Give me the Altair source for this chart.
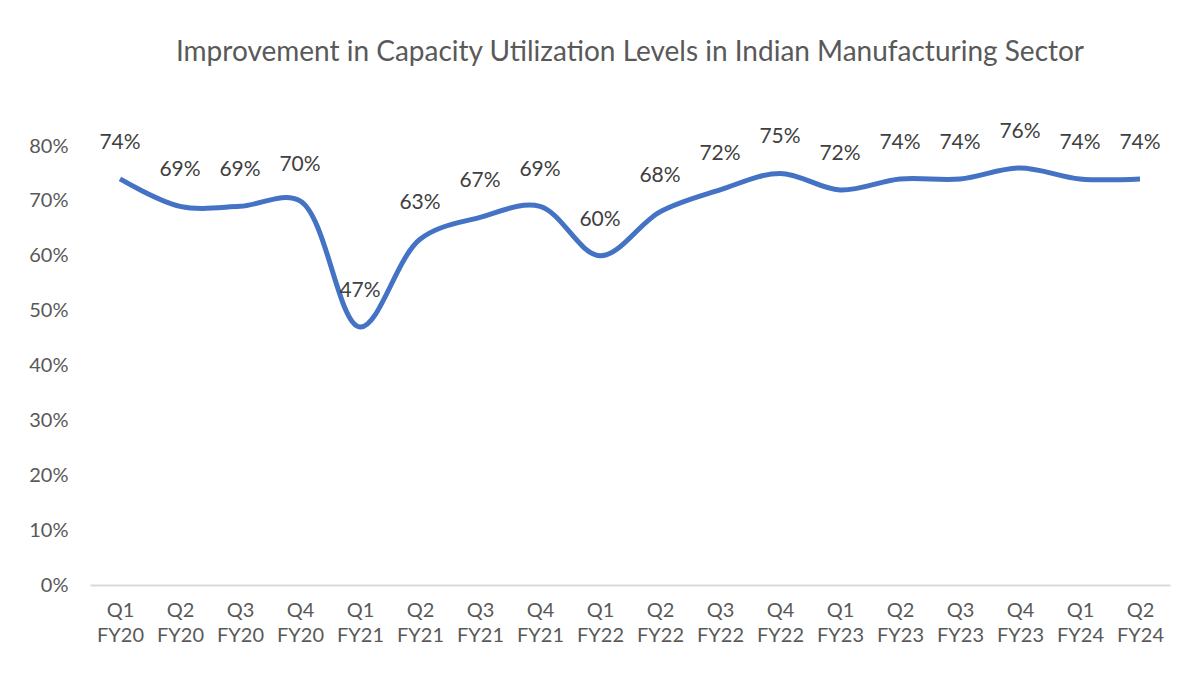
import altair as alt
import pandas as pd

quarters = ["Q1 FY20", "Q2 FY20", "Q3 FY20", "Q4 FY20",
            "Q1 FY21", "Q2 FY21", "Q3 FY21", "Q4 FY21",
            "Q1 FY22", "Q2 FY22", "Q3 FY22", "Q4 FY22",
            "Q1 FY23", "Q2 FY23", "Q3 FY23", "Q4 FY23",
            "Q1 FY24", "Q2 FY24"]
utilization = [0.74, 0.69, 0.69, 0.70, 0.47, 0.63, 0.67, 0.69, 0.60,
               0.68, 0.72, 0.75, 0.72, 0.74, 0.74, 0.76, 0.74, 0.74]

df = pd.DataFrame({"quarter": quarters, "value": utilization})

FONT = "Lato"

x_enc = alt.X("quarter:N", sort=quarters,
              axis=alt.Axis(title=None, labelAngle=0, labelExpr="split(datum.label, ' ')",
                            labelFontSize=20, labelColor="#595959", labelFont=FONT,
                            labelPadding=15, labelLineHeight=25,
                            ticks=False, domainColor="#d9d9d9", domainWidth=2))
y_enc = alt.Y("value:Q", scale=alt.Scale(domain=[0, 0.8], nice=False),
              axis=alt.Axis(title=None, format=".0%", values=[0, 0.1, 0.2, 0.3, 0.4, 0.5, 0.6, 0.7, 0.8],
                            labelFontSize=20, labelColor="#595959", labelFont=FONT,
                            ticks=False, domain=False, grid=False, labelPadding=22,
                            minExtent=77, maxExtent=77))

line = alt.Chart(df).mark_line(color="#4472C4", strokeWidth=5, interpolate="catmull-rom").encode(
    x=x_enc, y=y_enc)

labels = alt.Chart(df).mark_text(fontSize=21, color="#404040", font=FONT, dy=-36).encode(
    x=alt.X("quarter:N", sort=quarters), y=alt.Y("value:Q"), text=alt.Text("value:Q", format=".0%"))

chart = alt.layer(line, labels).properties(
    width=1080, height=439,
    title=alt.TitleParams("Improvement in Capacity Utilization Levels in Indian Manufacturing Sector",
                          fontSize=28, font=FONT, fontWeight="normal", color="#595959",
                          anchor="middle", offset=54),
    padding={"left": 5, "top": 30, "right": 5, "bottom": 5},
).configure_view(stroke=None).configure_scale(bandPaddingInner=0, bandPaddingOuter=0)

chart.save("out.html", embed_options={"renderer": "svg", "actions": False})
